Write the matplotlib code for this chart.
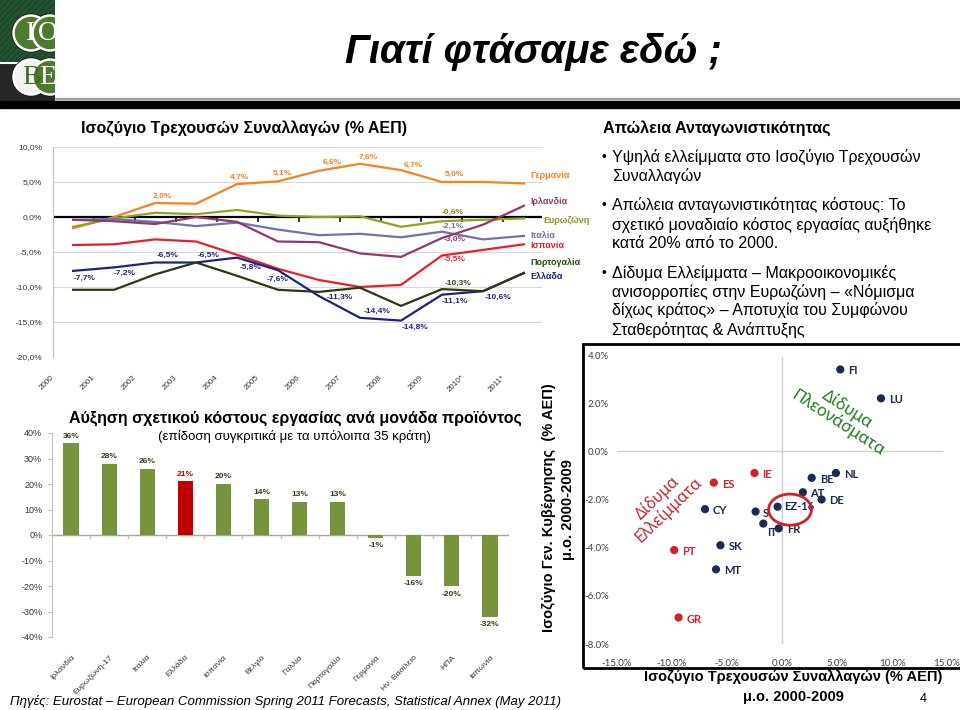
import numpy as np
import matplotlib
matplotlib.use('Agg')
import matplotlib.pyplot as plt
from matplotlib.patches import Rectangle, Circle, Ellipse
from matplotlib.ticker import FuncFormatter
import matplotlib.transforms as mtransforms

plt.rcParams['font.family'] = ['Liberation Sans', 'DejaVu Sans']

W, H = 960, 710

# --- current account (% GDP), line chart
years = ['2000', '2001', '2002', '2003', '2004', '2005', '2006', '2007', '2008', '2009', '2010*', '2011*']
germany = [-1.6, 0.0, 2.0, 1.9, 4.7, 5.1, 6.6, 7.6, 6.7, 5.0, 5.0, 4.8]
ireland = [-0.4, -0.6, -1.0, 0.0, -0.7, -3.5, -3.6, -5.2, -5.7, -3.0, -1.1, 1.6]
eurozone = [-1.4, -0.2, 0.6, 0.4, 1.0, 0.2, 0.0, 0.1, -1.4, -0.6, -0.4, -0.2]
italy = [-0.4, -0.3, -0.7, -1.3, -0.8, -1.8, -2.6, -2.4, -2.9, -2.1, -3.2, -2.7]
spain = [-4.0, -3.9, -3.2, -3.5, -5.4, -7.4, -9.0, -10.0, -9.7, -5.5, -4.7, -3.9]
portugal = [-10.4, -10.4, -8.2, -6.5, -8.4, -10.4, -10.7, -10.1, -12.7, -10.3, -10.6, -8.0]
greece = [-7.7, -7.2, -6.5, -6.5, -5.8, -7.6, -11.3, -14.4, -14.8, -11.1, -10.6, -8.0]

# --- unit labour cost growth, bar chart
ulc_countries = ['Ιρλανδία', 'Ευρωζώνη-17', 'Ιταλία', 'Ελλάδα', 'Ισπανία', 'Βέλγιο', 'Γαλλία',
                 'Πορτογαλία', 'Γερμανία', 'Ην. Βασίλειο', 'ΗΠΑ', 'Ιαπωνία']
ulc_values = [36, 28, 26, 21, 20, 14, 13, 13, -1, -16, -20, -32]

# --- scatter: current account vs government balance, avg 2000-2009
sc_codes = ['FI', 'LU', 'IE', 'ES', 'BE', 'NL', 'AT', 'DE', 'EZ-16', 'S', 'CY', 'IT', 'FR', 'SK', 'PT', 'MT', 'GR']
sc_ca = [5.3, 9.0, -2.5, -6.2, 2.7, 4.9, 1.9, 3.6, -0.4, -2.4, -7.0, -1.7, -0.3, -5.6, -9.8, -6.0, -9.4]
sc_gov = [3.4, 2.2, -0.9, -1.3, -1.1, -0.9, -1.7, -2.0, -2.3, -2.5, -2.4, -3.0, -3.2, -3.9, -4.1, -4.9, -6.9]
twin_deficit = ['IE', 'ES', 'PT', 'GR']

bullets = [
    ['Υψηλά ελλείμματα στο Ισοζύγιο Τρεχουσών', 'Συναλλαγών'],
    ['Απώλεια ανταγωνιστικότητας κόστους: Το', 'σχετικό μοναδιαίο κόστος εργασίας αυξήθηκε', 'κατά 20% από το 2000.'],
    ['Δίδυμα Ελλείμματα – Μακροοικονομικές', 'ανισορροπίες στην Ευρωζώνη – «Νόμισμα',
     'δίχως κράτος» – Αποτυχία του Συμφώνου', 'Σταθερότητας & Ανάπτυξης'],
]


def px_axes(x0, y0, x1, y1):
    return fig.add_axes([x0 / W, 1 - y1 / H, (x1 - x0) / W, (y1 - y0) / H])


def fy(y):
    return 1 - y / H


def pct_comma(v, pos=None):
    return f'{v:.1f}'.replace('.', ',') + '%'


fig = plt.figure(figsize=(9.6, 7.1), dpi=100)
fig.patch.set_facecolor('white')

# ---------------- header ----------------
lg = px_axes(0, 0, 55, 105)
lg.set_xlim(0, 55)
lg.set_ylim(105, 0)
lg.axis('off')
lg.add_patch(Rectangle((0, 0), 55, 62, color='#1c4a2a', zorder=0))
for k in range(-10, 12):
    lg.plot([k * 6, k * 6 + 60], [62, 0], color='#2a5a36', lw=0.8, zorder=0.5)
lg.add_patch(Rectangle((0, 62), 55, 43, color='#262626', zorder=0.6))
lg.plot([0, 55], [63, 63], color='white', lw=1.5, zorder=0.7)
logo = [(31, 33, 'I', '#4c7a2e', 'white'), (50, 33, 'O', '#4c7a2e', 'white'),
        (31, 77, 'B', '#f2f2ee', '#3d6b25'), (50, 77, 'E', '#4c7a2e', 'white')]
for (cx, cy, ch, fill, tc) in logo:
    lg.add_patch(Circle((cx, cy), 19.5, facecolor='#111', edgecolor='none', zorder=2))
for (cx, cy, ch, fill, tc) in logo:
    lg.add_patch(Circle((cx, cy), 17.5, facecolor=fill, edgecolor='white', lw=1.8, zorder=2.5))
for (cx, cy, ch, fill, tc) in logo:
    lg.text(cx - 2 if ch in 'OE' else cx, cy + 1, ch, ha='center', va='center', fontsize=20, color=tc,
            zorder=4, family=['Liberation Serif', 'DejaVu Serif'])

fig.text(533 / W, fy(52), 'Γιατί φτάσαμε εδώ ;', ha='center', va='center', fontsize=29,
         fontweight='bold', fontstyle='italic', family=['Liberation Sans Narrow', 'Liberation Sans'])
fig.add_artist(Rectangle((55 / W, fy(99)), 1, 1.5 / H, transform=fig.transFigure, color='#a0a0a0'))
fig.add_artist(Rectangle((0, fy(108)), 1, 7 / H, transform=fig.transFigure, color='black'))

# ---------------- line chart ----------------
ax = px_axes(53, 147, 542, 357)
x = np.arange(len(years))
ax.set_xlim(-0.49, 11.44)
ax.set_ylim(-20, 10)
for g in [10, 5, -5, -10, -15, -20]:
    ax.axhline(g, color='#d9d9d9', lw=0.8, zorder=0)
ax.axhline(0, color='black', lw=1.6, zorder=1)
for t in np.arange(0.5, 11.5, 1):
    ax.plot([t, t], [0, -0.6], color='black', lw=1.2, zorder=1)

series = [
    (germany, '#f58220'), (eurozone, '#97a11c'), (italy, '#6e74a8'), (ireland, '#8d3a6c'),
    (spain, '#e8202a'), (greece, '#1c237d'), (portugal, '#2c3814'),
]
for vals, col in series:
    ax.plot(x, vals, color=col, lw=1.6, zorder=3)

for s in ['top', 'right', 'bottom']:
    ax.spines[s].set_visible(False)
ax.spines['left'].set_color('#bfbfbf')
ax.set_yticks([10, 5, 0, -5, -10, -15, -20])
ax.yaxis.set_major_formatter(FuncFormatter(pct_comma))
ax.tick_params(axis='y', length=0, labelsize=6, colors='#333333', pad=8)
ax.set_xticks(x)
ax.set_xticklabels(years, rotation=45, ha='right', va='center', rotation_mode='anchor')
ax.tick_params(axis='x', length=0, labelsize=5.8, colors='#333333', pad=14)
shift = mtransforms.ScaledTranslation(-20 / 100, 0, fig.dpi_scale_trans)
for lbl in ax.get_xticklabels():
    lbl.set_transform(lbl.get_transform() + shift)


def lab(axx, xi, v, dx, dy, col):
    axx.annotate(pct_comma(v), (xi, v), xytext=(dx, -dy), textcoords='offset pixels',
                 ha='center', va='center', color=col, fontsize=6, fontweight='bold', zorder=5)


greece_off = [(12, 7), (11, 6), (13, -7), (13, -7), (14, 10), (0, 9), (21, 1), (17, -6), (14, 7), (13, 7), (15, 6)]
for i, (dx, dy) in enumerate(greece_off):
    lab(ax, i, greece[i], dx, dy, '#1c237d')
germany_idx = [2, 4, 5, 6, 7, 8, 9]
germany_off = [(7, -7), (2, -7), (4, -8), (13, -8), (8, -6), (12, -5), (12, -8)]
for i, (dx, dy) in zip(germany_idx, germany_off):
    lab(ax, i, germany[i], dx, dy, '#f58220')
lab(ax, 9, eurozone[9], 11, -9, '#7d8a10')
lab(ax, 9, italy[9], 11, -5, '#6e74a8')
lab(ax, 9, ireland[9], 13, 1, '#8d3a6c')
lab(ax, 9, spain[9], 13, 4, '#e8202a')
lab(ax, 9, portugal[9], 16, -6, '#2c4a12')

ax.text(0.2, 12.6, 'Ισοζύγιο Τρεχουσών Συναλλαγών (% ΑΕΠ)', fontsize=11.5, fontweight='bold',
        ha='left', va='center', clip_on=False)

names = [('Γερμανία', '#f58220', 5.9), ('Ιρλανδία', '#8d3a6c', 2.2), ('Ευρωζώνη', '#8a9410', -0.45),
         ('Ιταλία', '#6e74a8', -2.6), ('Ισπανία', '#e8202a', -4.1), ('Πορτογαλία', '#2c4a12', -6.5),
         ('Ελλάδα', '#1c237d', -8.5)]
for nm, col, yy in names:
    xx = 11.48 if nm == 'Ευρωζώνη' else 11.15
    ax.text(xx, yy, nm, color=col, fontsize=6.5, fontweight='bold', ha='left', va='center', clip_on=False)

# ---------------- bar chart ----------------
bx = px_axes(52, 433, 509, 637)
bi = np.arange(len(ulc_countries))
bar_cols = ['#c00000' if c == 'Ελλάδα' else '#77933c' for c in ulc_countries]
bx.bar(bi, ulc_values, width=0.4, color=bar_cols, zorder=3)
bx.set_xlim(-0.5, 11.5)
bx.set_ylim(-40, 40)
bx.axhline(0, color='#a6a6a6', lw=1, zorder=2)
for t in np.arange(0.5, 11.5, 1):
    bx.plot([t, t], [0, -1.2], color='#bfbfbf', lw=1, zorder=2)
for s in ['top', 'right', 'bottom']:
    bx.spines[s].set_visible(False)
bx.spines['left'].set_color('#bfbfbf')
bx.set_yticks(np.arange(-40, 41, 10))
bx.yaxis.set_major_formatter(FuncFormatter(lambda v, p: f'{v:.0f}%'))
bx.tick_params(axis='y', length=3, labelsize=6.5, pad=4, colors='#bfbfbf', labelcolor='#333333')
bx.set_xticks(bi)
bx.set_xticklabels(ulc_countries, rotation=45, ha='right', va='top', rotation_mode='anchor')
bx.tick_params(axis='x', length=0, labelsize=6, colors='#333333', pad=12)
for i, v in enumerate(ulc_values):
    col = '#c00000' if ulc_countries[i] == 'Ελλάδα' else '#3a3a1a'
    dy = 7 if v >= 0 else -8
    bx.annotate(f'{v}%', (i, v), xytext=(0, dy), textcoords='offset pixels', ha='center', va='center',
                fontsize=6, fontweight='bold', color=col)

fig.text(295 / W, fy(418), 'Αύξηση σχετικού κόστους εργασίας ανά μονάδα προϊόντος', ha='center',
         va='center', fontsize=11.5, fontweight='bold')
fig.text(294 / W, fy(437), '(επίδοση συγκριτικά με τα υπόλοιπα 35 κράτη)', ha='center', va='center',
         fontsize=9.5)

fig.text(10 / W, fy(701), 'Πηγές: Eurostat – European Commission Spring 2011 Forecasts, Statistical Annex (May 2011)',
         ha='left', va='center', fontsize=9.5, fontstyle='italic')

# ---------------- right text ----------------
fig.text(603 / W, fy(128), 'Απώλεια Ανταγωνιστικότητας', ha='left', va='center', fontsize=11.6,
         fontweight='bold')
line_y = [[157, 176], [205, 225, 243], [273, 292, 310, 330]]
for blk, ys in zip(bullets, line_y):
    fig.text(602 / W, fy(ys[0]), '•', ha='left', va='center', fontsize=10)
    for txt, yy in zip(blk, ys):
        fig.text(612 / W, fy(yy), txt, ha='left', va='center', fontsize=11.5)

# ---------------- scatter ----------------
fig.add_artist(Rectangle((583 / W, fy(668)), 400 / W, (668 - 344) / H, transform=fig.transFigure,
                         facecolor='none', edgecolor='black', lw=2))
sx = px_axes(617, 355, 947, 644)
sx.set_xlim(-15, 15)
sx.set_ylim(-8, 4)
for s in sx.spines.values():
    s.set_visible(False)
sx.plot([0, 0], [3.9, -8], color='#d0d0d0', lw=1, zorder=1)
sx.plot([-15, 14.5], [0, 0], color='#d0d0d0', lw=1, zorder=1)
navy = '#1a2a52'
red = '#d42027'
cols = [red if c in twin_deficit else navy for c in sc_codes]
sx.scatter(sc_ca, sc_gov, s=24, c=cols, zorder=3)
lab_off = {'IT': (4, 9), 'EZ-16': (7, 0), 'AT': (7, 1), 'S': (7, 1.5)}
for c, xv, yv, col in zip(sc_codes, sc_ca, sc_gov, cols):
    dx, dy = lab_off.get(c, (8, 1.5))
    sx.annotate(c, (xv, yv), xytext=(dx, -dy), textcoords='offset pixels', ha='left', va='center',
                fontsize=8, fontweight='bold', color=col, family=['Lato', 'DejaVu Sans'])
sx.add_patch(Ellipse((0.73, -2.42), 3.9, 1.29, facecolor='none', edgecolor='#d42027', lw=2, zorder=4))
sx.set_xticks(np.arange(-15, 16, 5))
sx.set_yticks(np.arange(-8, 5, 2))
sx.xaxis.set_major_formatter(FuncFormatter(lambda v, p: f'{v:.1f}%'))
sx.yaxis.set_major_formatter(FuncFormatter(lambda v, p: f'{v:.1f}%'))
sx.tick_params(length=0, labelsize=7, colors='#404040')
sx.tick_params(axis='x', pad=11)
sx.tick_params(axis='y', pad=6)
for lbl in sx.get_xticklabels() + sx.get_yticklabels():
    lbl.set_family(['Lato', 'DejaVu Sans'])
sx.text(5.5, 1.45, 'Δίδυμα\nΠλεονάσματα', rotation=-33, rotation_mode='anchor', ha='center',
        va='center', fontsize=12, fontweight='bold', color='#1f7a1f', linespacing=0.95,
        family=['Noto Sans', 'DejaVu Sans'])
sx.text(-10.8, -2.2, 'Δίδυμα\nΕλλείμματα', rotation=44, rotation_mode='anchor', ha='center',
        va='center', fontsize=11.5, fontweight='bold', color='#c0282d', linespacing=0.95,
        family=['Noto Sans', 'DejaVu Sans'])

fig.text(793 / W, fy(677), 'Ισοζύγιο Τρεχουσών Συναλλαγών (% ΑΕΠ)', ha='center', va='center',
         fontsize=10.5, fontweight='bold')
fig.text(793 / W, fy(697), 'μ.ο. 2000-2009', ha='center', va='center', fontsize=10.5, fontweight='bold')
fig.text(923 / W, fy(699), '4', ha='center', va='center', fontsize=9)
fig.text(549 / W, fy(508), 'Ισοζύγιο Γεν. Κυβέρνησης  (% ΑΕΠ)', rotation=90, ha='center', va='center',
         fontsize=10.5, fontweight='bold')
fig.text(568 / W, fy(510), 'μ.ο. 2000-2009', rotation=90, ha='center', va='center', fontsize=10.5,
         fontweight='bold')

fig.savefig('out.png', dpi=100)
